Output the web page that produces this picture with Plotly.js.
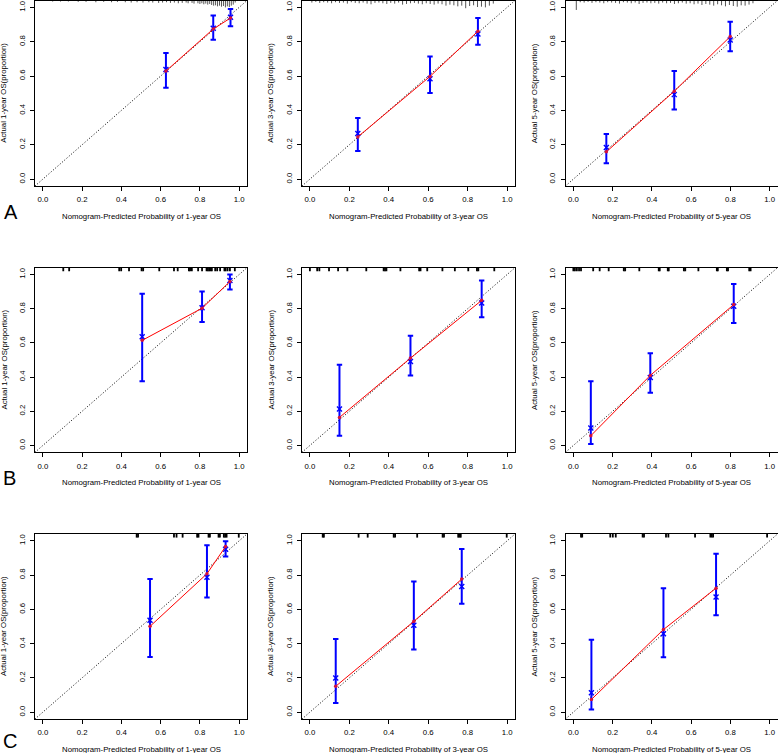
<!DOCTYPE html>
<html>
<head>
<meta charset="utf-8">
<script src="https://cdn.plot.ly/plotly-3.0.1.min.js"></script>
<style>
  html, body { margin: 0; padding: 0; background: #ffffff; }
  #chart { width: 778px; height: 753px; }
</style>
</head>
<body>
<div id="chart"></div>
<script>
// Calibration curves of the nomogram: rows A/B/C (cohorts), columns 1-, 3- and 5-year OS.
// Panel order: A1 A2 A3 B1 B2 B3 C1 C2 C3

const panelYears = ['1', '3', '5', '1', '3', '5', '1', '3', '5'];
const rowLetters = ['A', 'B', 'C'];

// Mean nomogram-predicted probability in each risk group
const predicted = [
  [0.627, 0.868, 0.956],
  [0.243, 0.609, 0.852],
  [0.168, 0.514, 0.799],
  [0.506, 0.811, 0.953],
  [0.150, 0.510, 0.871],
  [0.089, 0.392, 0.817],
  [0.546, 0.836, 0.931],
  [0.131, 0.527, 0.770],
  [0.092, 0.459, 0.727]
];

// Observed (Kaplan-Meier) proportion surviving
const observed = [
  [0.629, 0.874, 0.938],
  [0.246, 0.598, 0.861],
  [0.159, 0.512, 0.830],
  [0.615, 0.803, 0.959],
  [0.164, 0.511, 0.849],
  [0.057, 0.410, 0.824],
  [0.501, 0.808, 0.967],
  [0.151, 0.530, 0.777],
  [0.074, 0.482, 0.724]
];

// Bias-corrected estimates (x marks)
const corrected = [
  [0.638, 0.878, 0.942],
  [0.265, 0.584, 0.845],
  [0.184, 0.492, 0.810],
  [0.636, 0.806, 0.965],
  [0.213, 0.491, 0.834],
  [0.102, 0.398, 0.814],
  [0.536, 0.788, 0.951],
  [0.200, 0.507, 0.734],
  [0.113, 0.458, 0.672]
];

// 95% confidence limits
const lowerCI = [
  [0.532, 0.812, 0.890],
  [0.164, 0.501, 0.783],
  [0.093, 0.406, 0.745],
  [0.375, 0.722, 0.912],
  [0.057, 0.409, 0.750],
  [0.008, 0.309, 0.717],
  [0.322, 0.670, 0.909],
  [0.054, 0.365, 0.633],
  [0.016, 0.320, 0.565]
];
const upperCI = [
  [0.735, 0.952, 0.990],
  [0.356, 0.714, 0.938],
  [0.263, 0.629, 0.917],
  [0.887, 0.901, 1.000],
  [0.472, 0.642, 0.965],
  [0.375, 0.539, 0.945],
  [0.777, 0.975, 0.998],
  [0.427, 0.763, 0.953],
  [0.423, 0.724, 0.924]
];

// Distribution of predicted probabilities (spike histogram for cohort A)
const rugA1x = [0.05, 0.09, 0.13, 0.18, 0.22, 0.27, 0.31, 0.35, 0.38, 0.42, 0.45, 0.48, 0.51, 0.54, 0.56,
  0.59, 0.61, 0.63, 0.65, 0.67, 0.69, 0.71, 0.73, 0.74, 0.76, 0.77, 0.79, 0.80, 0.81, 0.82, 0.83,
  0.84, 0.85, 0.86, 0.87, 0.88, 0.89, 0.90, 0.91, 0.92, 0.93, 0.94, 0.95, 0.96, 0.97, 0.98];
const rugA1h = [0.006, 0.006, 0.006, 0.008, 0.008, 0.010, 0.008, 0.010, 0.008, 0.010, 0.012, 0.010, 0.012, 0.010, 0.012,
  0.014, 0.012, 0.010, 0.014, 0.012, 0.016, 0.014, 0.012, 0.016, 0.014, 0.018, 0.016, 0.020, 0.016, 0.022, 0.018,
  0.024, 0.020, 0.026, 0.030, 0.028, 0.034, 0.030, 0.036, 0.032, 0.040, 0.034, 0.038, 0.030, 0.024, 0.012];

const rugA2x = [0.01, 0.03, 0.05, 0.07, 0.09, 0.11, 0.13, 0.15, 0.17, 0.19, 0.21, 0.23, 0.25, 0.27, 0.29, 0.31,
  0.33, 0.35, 0.37, 0.39, 0.41, 0.43, 0.45, 0.47, 0.49, 0.51, 0.53, 0.55, 0.57, 0.59, 0.61, 0.63,
  0.65, 0.67, 0.69, 0.71, 0.73, 0.75, 0.77, 0.79, 0.81, 0.83, 0.85, 0.87, 0.89, 0.91, 0.93];
const rugA2h = [0.012, 0.008, 0.014, 0.010, 0.012, 0.016, 0.010, 0.014, 0.012, 0.018, 0.010, 0.014, 0.016, 0.012, 0.018, 0.022,
  0.014, 0.012, 0.016, 0.020, 0.014, 0.018, 0.012, 0.024, 0.020, 0.016, 0.014, 0.018, 0.022, 0.016, 0.020, 0.024,
  0.018, 0.022, 0.030, 0.024, 0.028, 0.034, 0.030, 0.045, 0.032, 0.028, 0.038, 0.036, 0.040, 0.030, 0.018];

const rugA3x = [0.015, 0.035, 0.055, 0.075, 0.095, 0.115, 0.135, 0.155, 0.175, 0.195, 0.215, 0.235, 0.255, 0.275, 0.295,
  0.315, 0.335, 0.355, 0.375, 0.395, 0.415, 0.435, 0.455, 0.475, 0.495, 0.515, 0.535, 0.555, 0.575, 0.595,
  0.615, 0.635, 0.655, 0.675, 0.695, 0.715, 0.735, 0.755, 0.775, 0.795, 0.815, 0.835, 0.855, 0.875, 0.895, 0.915];
const rugA3h = [0.055, 0.010, 0.012, 0.008, 0.014, 0.010, 0.012, 0.016, 0.010, 0.012, 0.014, 0.018, 0.010, 0.012, 0.016,
  0.012, 0.020, 0.014, 0.012, 0.016, 0.014, 0.018, 0.012, 0.016, 0.014, 0.020, 0.016, 0.012, 0.018, 0.016,
  0.022, 0.018, 0.026, 0.020, 0.024, 0.030, 0.022, 0.028, 0.034, 0.026, 0.032, 0.036, 0.028, 0.030, 0.024, 0.016];

// Individual predicted values for cohorts B and C (tick rug)
const rugB1 = [0.104, 0.134, 0.389, 0.399, 0.439, 0.503, 0.511, 0.593, 0.668, 0.687, 0.744, 0.750, 0.759, 0.791,
  0.811, 0.834, 0.841, 0.848, 0.854, 0.861, 0.878, 0.888, 0.903, 0.925, 0.931, 0.941, 0.953, 0.978];
const rugB2 = [0.000, 0.037, 0.048, 0.097, 0.143, 0.190, 0.286, 0.374, 0.381, 0.388, 0.459, 0.554, 0.561, 0.595,
  0.672, 0.735, 0.803, 0.847, 0.854, 0.935];
const rugB3 = [0.000, 0.008, 0.018, 0.029, 0.039, 0.101, 0.134, 0.180, 0.257, 0.264, 0.336, 0.435, 0.440, 0.481,
  0.486, 0.563, 0.570, 0.637, 0.731, 0.736, 0.782, 0.788, 0.896, 0.903];
const rugC1 = [0.478, 0.485, 0.668, 0.681, 0.712, 0.786, 0.793, 0.844, 0.851, 0.895, 0.902, 0.922, 0.929, 0.936, 0.998];
const rugC2 = [0.065, 0.071, 0.247, 0.293, 0.425, 0.432, 0.544, 0.673, 0.680, 0.752, 0.759, 0.765, 0.998];
const rugC3 = [0.039, 0.045, 0.188, 0.201, 0.216, 0.353, 0.360, 0.472, 0.484, 0.620, 0.698, 0.705, 0.712, 0.987];

const tickValues = [0, 0.2, 0.4, 0.6, 0.8, 1.0];
const tickLabels = ['0.0', '0.2', '0.4', '0.6', '0.8', '1.0'];

// ---- layout geometry (pixels) ----
const W = 778, H = 753;
const axisRange = [-0.04, 1.04];
const colPx = [[35, 247], [302, 515], [565.5, 777.5]];
const rowPx = [[0.5, 186], [267.7, 452.3], [534, 719]];
const FONT = 'Liberation Sans, Arial, Helvetica, sans-serif';
const TEXT_SIZE = 7.8;

const spikeRugs = [[rugA1x, rugA1h], [rugA2x, rugA2h], [rugA3x, rugA3h]];
const tickRugs = [null, null, null, rugB1, rugB2, rugB3, rugC1, rugC2, rugC3];
const tickRugLength = 0.021;

function segments(xs, hs) {
  const top = axisRange[1];
  const x = [], y = [];
  xs.forEach((v, k) => {
    x.push(v, v, null);
    y.push(top, top - hs[k], null);
  });
  return { x, y };
}

const traces = [];
const layout = {
  width: W, height: H,
  margin: { l: 0, r: 0, t: 0, b: 0 },
  paper_bgcolor: '#ffffff', plot_bgcolor: '#ffffff',
  showlegend: false,
  font: { family: FONT, size: TEXT_SIZE, color: '#000' },
  annotations: []
};

for (let i = 0; i < 9; i++) {
  const r = Math.floor(i / 3), c = i % 3;
  const suf = i === 0 ? '' : String(i + 1);
  const xa = 'x' + suf, ya = 'y' + suf;
  const [left, right] = colPx[c];
  const [top, bottom] = rowPx[r];

  const common = {
    range: axisRange, showgrid: false, zeroline: false,
    showline: true, mirror: true, linecolor: '#000', linewidth: 1,
    ticks: 'outside', ticklen: 4, tickwidth: 1, tickcolor: '#000',
    tickmode: 'array', tickvals: tickValues, ticktext: tickLabels,
    tickfont: { family: FONT, size: TEXT_SIZE, color: '#000' },
    fixedrange: true
  };
  layout['xaxis' + suf] = Object.assign({}, common, {
    domain: [left / W, right / W], anchor: ya, ticklabelstandoff: 2
  });
  layout['yaxis' + suf] = Object.assign({}, common, {
    domain: [1 - bottom / H, 1 - top / H], anchor: xa, tickangle: -90, ticklabelstandoff: 2
  });

  // reference diagonal
  traces.push({
    x: axisRange, y: axisRange, xaxis: xa, yaxis: ya, mode: 'lines',
    line: { color: '#000', width: 1, dash: '1px,2px' }, hoverinfo: 'skip'
  });

  // distribution of predictions along the top
  let rug;
  if (r === 0) {
    rug = segments(spikeRugs[c][0], spikeRugs[c][1]);
    traces.push({ x: rug.x, y: rug.y, xaxis: xa, yaxis: ya, mode: 'lines',
      line: { color: '#555', width: 1 }, hoverinfo: 'skip' });
  } else {
    const xs = tickRugs[i];
    rug = segments(xs, xs.map(() => tickRugLength));
    traces.push({ x: rug.x, y: rug.y, xaxis: xa, yaxis: ya, mode: 'lines',
      line: { color: '#000', width: 1.8 }, hoverinfo: 'skip' });
  }

  // bias-corrected estimates with confidence bars
  traces.push({
    x: predicted[i], y: corrected[i], xaxis: xa, yaxis: ya, mode: 'markers',
    marker: { symbol: 'x-thin', size: 5, color: '#0000ff', line: { color: '#0000ff', width: 1.4 } },
    error_y: {
      type: 'data', symmetric: false,
      array: upperCI[i].map((u, k) => u - corrected[i][k]),
      arrayminus: lowerCI[i].map((l, k) => corrected[i][k] - l),
      color: '#0000ff', thickness: 2, width: 2.7
    }
  });

  // observed calibration curve
  traces.push({
    x: predicted[i], y: observed[i], xaxis: xa, yaxis: ya, mode: 'lines+markers',
    line: { color: '#ff0000', width: 1 },
    marker: { symbol: 'circle', size: 3.5, color: '#d4103c' }
  });

  // axis titles
  layout.annotations.push({
    xref: 'paper', yref: 'paper', showarrow: false,
    x: (left + right) / 2 / W, y: 1 - (bottom + 30.5) / H,
    xanchor: 'center', yanchor: 'middle',
    text: 'Nomogram-Predicted Probability of ' + panelYears[i] + '-year OS',
    font: { family: FONT, size: TEXT_SIZE, color: '#000' }
  });
  layout.annotations.push({
    xref: 'paper', yref: 'paper', showarrow: false,
    x: (left - 31.5) / W, y: 1 - (top + bottom) / 2 / H,
    xanchor: 'center', yanchor: 'middle', textangle: -90,
    text: 'Actual ' + panelYears[i] + '-year OS(proportion)',
    font: { family: FONT, size: TEXT_SIZE, color: '#000' }
  });
}

// cohort letters
const letterPx = [[10.5, 212.5], [9.5, 478], [9.5, 741]];
rowLetters.forEach((L, r) => {
  layout.annotations.push({
    xref: 'paper', yref: 'paper', showarrow: false,
    x: letterPx[r][0] / W, y: 1 - letterPx[r][1] / H,
    xanchor: 'center', yanchor: 'middle',
    text: L, font: { family: FONT, size: 20, color: '#000' }
  });
});

Plotly.newPlot('chart', traces, layout, { staticPlot: true, displayModeBar: false });
</script>
</body>
</html>
